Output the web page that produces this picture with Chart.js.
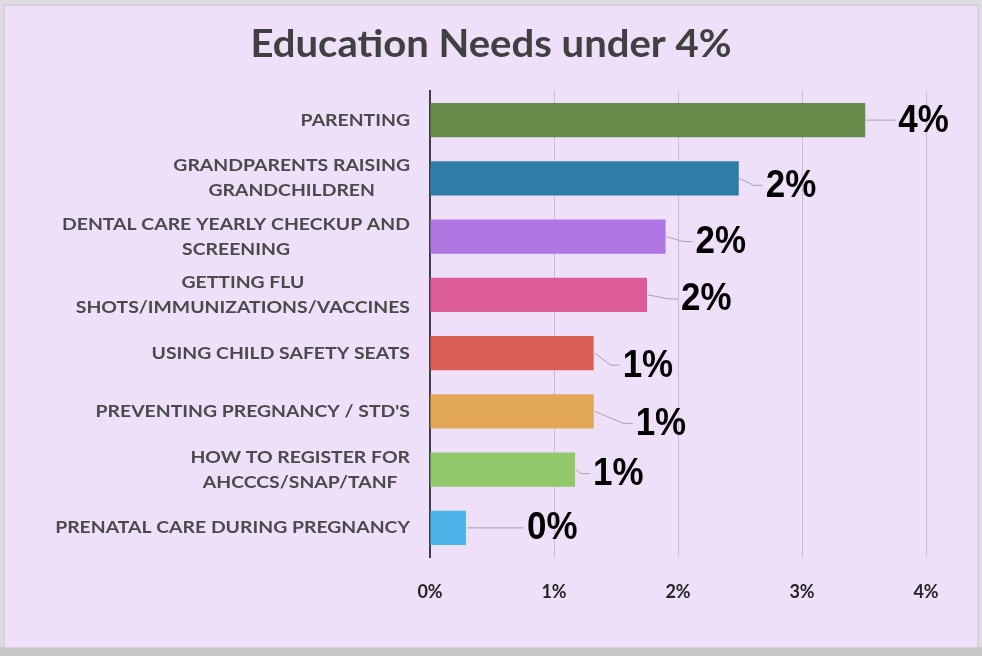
<!DOCTYPE html>
<html>
<head>
<meta charset="utf-8">
<script src="https://cdn.jsdelivr.net/npm/chart.js@4"></script>
<style>
  html, body { margin: 0; padding: 0; background: #DCDDDC; }
  #wrap { width: 982px; height: 656px; }
</style>
</head>
<body>
<div id="wrap"><canvas id="c" width="982" height="656"></canvas></div>
<script>
// ---- data ----
const chartTitle = "Education Needs under 4%";
const categories = [
  ["PARENTING"],
  ["GRANDPARENTS RAISING", "GRANDCHILDREN"],
  ["DENTAL CARE YEARLY CHECKUP AND", "SCREENING"],
  ["GETTING FLU", "SHOTS/IMMUNIZATIONS/VACCINES"],
  ["USING CHILD SAFETY SEATS"],
  ["PREVENTING PREGNANCY / STD'S"],
  ["HOW TO REGISTER FOR", "AHCCCS/SNAP/TANF"],
  ["PRENATAL CARE DURING PREGNANCY"]
];
const values = [3.51, 2.49, 1.90, 1.75, 1.32, 1.32, 1.17, 0.29];
const xTickLabels = ["0%", "1%", "2%", "3%", "4%"];

// ---- styles ----
const barColors = ["#668A47", "#2E7CA8", "#B077E3", "#DC5C98", "#DB5E55", "#E2A657", "#91C86A", "#4DB4EA"];
// label nudges relative to bar end (px)
const labelNudge = [[33,0],[27,7],[30,5],[34,4],[29,12],[42,12],[18,4],[61,0]];
const catLabelScaleX = 1.14;

const bgPlugin = {
  id: 'bg',
  beforeDraw(chart) {
    const ctx = chart.ctx;
    ctx.save();
    ctx.fillStyle = '#DCDDDC';
    ctx.fillRect(0, 0, 982, 656);
    ctx.fillStyle = '#C4C7C4';
    ctx.fillRect(0, 647, 982, 9);
    ctx.fillStyle = '#D9CCE3';
    ctx.fillRect(3, 4, 976, 644);
    ctx.fillStyle = '#EDE0F8';
    ctx.fillRect(5, 6, 972, 641);
    // title
    ctx.font = 'bold 38px Lato';
    ctx.fillStyle = '#404040';
    ctx.textAlign = 'center';
    ctx.textBaseline = 'alphabetic';
    const w = ctx.measureText(chartTitle).width;
    const s = 481 / w;
    ctx.translate(491, 57);
    ctx.scale(s, 1);
    ctx.fillText(chartTitle, 0, 0);
    ctx.restore();
  }
};

const labelsPlugin = {
  id: 'customLabels',
  afterDatasetsDraw(chart) {
    const ctx = chart.ctx;
    const yScale = chart.scales.y;
    const xScale = chart.scales.x;
    ctx.save();
    // category labels
    ctx.font = 'bold 17px Lato';
    ctx.fillStyle = '#4A4A4A';
    ctx.textAlign = 'center';
    ctx.textBaseline = 'middle';
    categories.forEach((lines, i) => {
      const cy = yScale.getPixelForValue(i);
      const maxW = Math.max(...lines.map(l => ctx.measureText(l).width)) * catLabelScaleX;
      const cx = 410 - maxW / 2;
      lines.forEach((l, j) => {
        ctx.save();
        ctx.translate(cx, cy + (j - (lines.length - 1) / 2) * 25);
        ctx.scale(catLabelScaleX, 1);
        ctx.fillText(l, 0, 0);
        ctx.restore();
      });
    });
    // data labels with leader lines
    const meta = chart.getDatasetMeta(0);
    meta.data.forEach((bar, i) => {
      const xEnd = xScale.getPixelForValue(values[i]);
      const cy = bar.y;
      const lx = xEnd + labelNudge[i][0];
      const ly = cy + labelNudge[i][1];
      ctx.strokeStyle = '#A8A3AC';
      ctx.lineWidth = 1;
      ctx.beginPath();
      ctx.moveTo(xEnd + 1, cy);
      ctx.lineTo(Math.max(xEnd + 1, lx - 12), ly);
      ctx.lineTo(lx - 3, ly);
      ctx.stroke();
      ctx.save();
      ctx.font = 'bold 38px "Liberation Sans", Arial, sans-serif';
      ctx.fillStyle = '#000000';
      ctx.textAlign = 'left';
      ctx.textBaseline = 'middle';
      ctx.translate(lx, ly + 1);
      ctx.scale(0.92, 1);
      ctx.fillText(Math.round(values[i]) + '%', 0, 0);
      ctx.restore();
    });
    ctx.restore();
  }
};

new Chart(document.getElementById('c'), {
  type: 'bar',
  data: {
    labels: categories,
    datasets: [{
      data: values,
      backgroundColor: barColors,
      borderWidth: 0,
      barPercentage: 0.585,
      categoryPercentage: 1.0
    }]
  },
  options: {
    indexAxis: 'y',
    responsive: false,
    animation: false,
    devicePixelRatio: 1,
    layout: { padding: { top: 91, right: 56, left: 0, bottom: 0 } },
    plugins: {
      legend: { display: false },
      title: { display: false },
      tooltip: { enabled: false }
    },
    scales: {
      x: {
        min: 0, max: 4,
        afterFit(scale) { scale.height = 99; },
        ticks: {
          stepSize: 1,
          padding: 24,
          color: '#262626',
          font: { family: 'Lato', size: 18, weight: 'bold' },
          callback: (v, i) => xTickLabels[i]
        },
        grid: { color: '#C9BFD4', lineWidth: 1, drawTicks: false },
        border: { display: false }
      },
      y: {
        afterFit(scale) { scale.width = 430; },
        ticks: { display: false },
        grid: { display: false, drawTicks: false },
        border: { display: true, color: '#404040', width: 2 }
      }
    }
  },
  plugins: [bgPlugin, labelsPlugin]
});
</script>
</body>
</html>
